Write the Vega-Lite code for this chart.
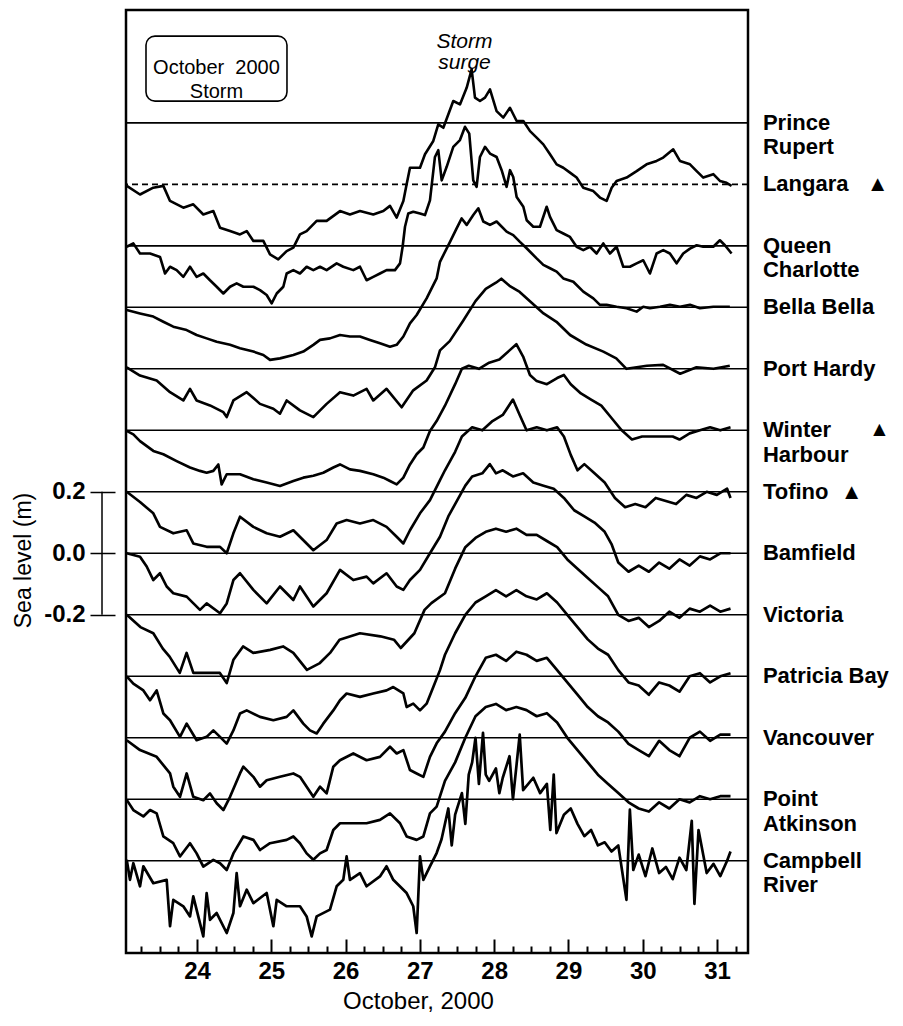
{
  "$schema": "https://vega.github.io/schema/vega-lite/v6.json",
  "width": 622,
  "height": 943,
  "autosize": {"type": "none"},
  "padding": {"left": 126, "top": 10, "right": 155, "bottom": 73},
  "background": "white",
  "config": {
    "font": "Liberation Sans",
    "view": {"stroke": "black", "strokeWidth": 2.5},
    "axis": {"labelFont": "Liberation Sans", "titleFont": "Liberation Sans", "labelColor": "black", "titleColor": "black", "tickColor": "black", "grid": false, "domain": false}
  },
  "resolve": {"axis": {"x": "independent", "y": "independent"}},
  "datasets": {
    "stations": [
      {"station": "Prince Rupert", "label": "Prince\nRupert", "level": 1.4},
      {"station": "Langara", "label": "Langara\u00a0\u00a0 ▲", "level": 1.2},
      {"station": "Queen Charlotte", "label": "Queen\nCharlotte", "level": 1.0},
      {"station": "Bella Bella", "label": "Bella Bella", "level": 0.8},
      {"station": "Port Hardy", "label": "Port Hardy", "level": 0.6},
      {"station": "Winter Harbour", "label": "Winter\nHarbour", "level": 0.4},
      {"station": "Tofino", "label": "Tofino\u00a0 ▲", "level": 0.2},
      {"station": "Bamfield", "label": "Bamfield", "level": 0.0},
      {"station": "Victoria", "label": "Victoria", "level": -0.2},
      {"station": "Patricia Bay", "label": "Patricia Bay", "level": -0.4},
      {"station": "Vancouver", "label": "Vancouver", "level": -0.6},
      {"station": "Point Atkinson", "label": "Point\nAtkinson", "level": -0.8},
      {"station": "Campbell River", "label": "Campbell\nRiver", "level": -1.0}
    ],
    "series": [
      {"station":"Langara","day":23.055,"level":1.195},{"station":"Langara","day":23.233,"level":1.167},{"station":"Langara","day":23.412,"level":1.189},{"station":"Langara","day":23.547,"level":1.195},{"station":"Langara","day":23.637,"level":1.146},{"station":"Langara","day":23.816,"level":1.124},{"station":"Langara","day":23.95,"level":1.135},{"station":"Langara","day":24.085,"level":1.102},{"station":"Langara","day":24.22,"level":1.113},{"station":"Langara","day":24.31,"level":1.059},{"station":"Langara","day":24.445,"level":1.048},{"station":"Langara","day":24.579,"level":1.037},{"station":"Langara","day":24.669,"level":1.048},{"station":"Langara","day":24.759,"level":1.016},{"station":"Langara","day":24.893,"level":1.016},{"station":"Langara","day":24.983,"level":0.972},{"station":"Langara","day":25.094,"level":0.956},{"station":"Langara","day":25.207,"level":0.983},{"station":"Langara","day":25.297,"level":0.994},{"station":"Langara","day":25.386,"level":1.037},{"station":"Langara","day":25.476,"level":1.048},{"station":"Langara","day":25.611,"level":1.081},{"station":"Langara","day":25.745,"level":1.081},{"station":"Langara","day":25.925,"level":1.113},{"station":"Langara","day":26.059,"level":1.102},{"station":"Langara","day":26.194,"level":1.113},{"station":"Langara","day":26.373,"level":1.102},{"station":"Langara","day":26.508,"level":1.113},{"station":"Langara","day":26.598,"level":1.13},{"station":"Langara","day":26.688,"level":1.092},{"station":"Langara","day":26.778,"level":1.146},{"station":"Langara","day":26.822,"level":1.2},{"station":"Langara","day":26.867,"level":1.254},{"station":"Langara","day":27.002,"level":1.254},{"station":"Langara","day":27.069,"level":1.298},{"station":"Langara","day":27.181,"level":1.341},{"station":"Langara","day":27.248,"level":1.395},{"station":"Langara","day":27.316,"level":1.384},{"station":"Langara","day":27.45,"level":1.471},{"station":"Langara","day":27.54,"level":1.46},{"station":"Langara","day":27.63,"level":1.514},{"station":"Langara","day":27.697,"level":1.574},{"station":"Langara","day":27.742,"level":1.482},{"station":"Langara","day":27.809,"level":1.471},{"station":"Langara","day":27.877,"level":1.482},{"station":"Langara","day":27.944,"level":1.509},{"station":"Langara","day":28.033,"level":1.438},{"station":"Langara","day":28.123,"level":1.417},{"station":"Langara","day":28.213,"level":1.449},{"station":"Langara","day":28.303,"level":1.406},{"station":"Langara","day":28.393,"level":1.406},{"station":"Langara","day":28.483,"level":1.373},{"station":"Langara","day":28.572,"level":1.352},{"station":"Langara","day":28.662,"level":1.33},{"station":"Langara","day":28.752,"level":1.298},{"station":"Langara","day":28.841,"level":1.265},{"station":"Langara","day":28.931,"level":1.254},{"station":"Langara","day":29.021,"level":1.238},{"station":"Langara","day":29.11,"level":1.222},{"station":"Langara","day":29.2,"level":1.189},{"station":"Langara","day":29.335,"level":1.178},{"station":"Langara","day":29.424,"level":1.157},{"station":"Langara","day":29.514,"level":1.146},{"station":"Langara","day":29.582,"level":1.189},{"station":"Langara","day":29.648,"level":1.211},{"station":"Langara","day":29.783,"level":1.222},{"station":"Langara","day":29.918,"level":1.243},{"station":"Langara","day":30.052,"level":1.265},{"station":"Langara","day":30.187,"level":1.276},{"station":"Langara","day":30.276,"level":1.287},{"station":"Langara","day":30.411,"level":1.314},{"station":"Langara","day":30.501,"level":1.276},{"station":"Langara","day":30.636,"level":1.265},{"station":"Langara","day":30.726,"level":1.243},{"station":"Langara","day":30.815,"level":1.222},{"station":"Langara","day":30.95,"level":1.233},{"station":"Langara","day":31.039,"level":1.211},{"station":"Langara","day":31.128,"level":1.205},{"station":"Langara","day":31.196,"level":1.195},

      {"station":"Queen Charlotte","day":23.054,"level":0.997},{"station":"Queen Charlotte","day":23.143,"level":1.008},{"station":"Queen Charlotte","day":23.233,"level":0.975},{"station":"Queen Charlotte","day":23.368,"level":0.975},{"station":"Queen Charlotte","day":23.502,"level":0.964},{"station":"Queen Charlotte","day":23.57,"level":0.91},{"station":"Queen Charlotte","day":23.637,"level":0.932},{"station":"Queen Charlotte","day":23.726,"level":0.921},{"station":"Queen Charlotte","day":23.816,"level":0.899},{"station":"Queen Charlotte","day":23.906,"level":0.932},{"station":"Queen Charlotte","day":23.995,"level":0.899},{"station":"Queen Charlotte","day":24.085,"level":0.91},{"station":"Queen Charlotte","day":24.175,"level":0.888},{"station":"Queen Charlotte","day":24.265,"level":0.867},{"station":"Queen Charlotte","day":24.355,"level":0.845},{"station":"Queen Charlotte","day":24.445,"level":0.867},{"station":"Queen Charlotte","day":24.534,"level":0.878},{"station":"Queen Charlotte","day":24.624,"level":0.867},{"station":"Queen Charlotte","day":24.759,"level":0.867},{"station":"Queen Charlotte","day":24.848,"level":0.856},{"station":"Queen Charlotte","day":24.938,"level":0.84},{"station":"Queen Charlotte","day":25.005,"level":0.813},{"station":"Queen Charlotte","day":25.073,"level":0.845},{"station":"Queen Charlotte","day":25.162,"level":0.867},{"station":"Queen Charlotte","day":25.207,"level":0.91},{"station":"Queen Charlotte","day":25.297,"level":0.921},{"station":"Queen Charlotte","day":25.386,"level":0.91},{"station":"Queen Charlotte","day":25.476,"level":0.932},{"station":"Queen Charlotte","day":25.566,"level":0.921},{"station":"Queen Charlotte","day":25.656,"level":0.932},{"station":"Queen Charlotte","day":25.745,"level":0.921},{"station":"Queen Charlotte","day":25.88,"level":0.943},{"station":"Queen Charlotte","day":25.969,"level":0.932},{"station":"Queen Charlotte","day":26.104,"level":0.921},{"station":"Queen Charlotte","day":26.194,"level":0.932},{"station":"Queen Charlotte","day":26.283,"level":0.888},{"station":"Queen Charlotte","day":26.373,"level":0.899},{"station":"Queen Charlotte","day":26.463,"level":0.91},{"station":"Queen Charlotte","day":26.552,"level":0.921},{"station":"Queen Charlotte","day":26.665,"level":0.921},{"station":"Queen Charlotte","day":26.733,"level":0.943},{"station":"Queen Charlotte","day":26.768,"level":0.997},{"station":"Queen Charlotte","day":26.8,"level":1.062},{"station":"Queen Charlotte","day":26.844,"level":1.105},{"station":"Queen Charlotte","day":26.911,"level":1.111},{"station":"Queen Charlotte","day":27.002,"level":1.105},{"station":"Queen Charlotte","day":27.069,"level":1.1},{"station":"Queen Charlotte","day":27.136,"level":1.148},{"station":"Queen Charlotte","day":27.203,"level":1.289},{"station":"Queen Charlotte","day":27.248,"level":1.311},{"station":"Queen Charlotte","day":27.294,"level":1.213},{"station":"Queen Charlotte","day":27.361,"level":1.257},{"station":"Queen Charlotte","day":27.45,"level":1.322},{"station":"Queen Charlotte","day":27.54,"level":1.344},{"station":"Queen Charlotte","day":27.608,"level":1.387},{"station":"Queen Charlotte","day":27.665,"level":1.365},{"station":"Queen Charlotte","day":27.719,"level":1.213},{"station":"Queen Charlotte","day":27.764,"level":1.192},{"station":"Queen Charlotte","day":27.809,"level":1.289},{"station":"Queen Charlotte","day":27.877,"level":1.322},{"station":"Queen Charlotte","day":27.944,"level":1.3},{"station":"Queen Charlotte","day":28.033,"level":1.289},{"station":"Queen Charlotte","day":28.101,"level":1.246},{"station":"Queen Charlotte","day":28.168,"level":1.192},{"station":"Queen Charlotte","day":28.213,"level":1.246},{"station":"Queen Charlotte","day":28.257,"level":1.224},{"station":"Queen Charlotte","day":28.303,"level":1.159},{"station":"Queen Charlotte","day":28.393,"level":1.127},{"station":"Queen Charlotte","day":28.438,"level":1.083},{"station":"Queen Charlotte","day":28.527,"level":1.062},{"station":"Queen Charlotte","day":28.617,"level":1.062},{"station":"Queen Charlotte","day":28.707,"level":1.127},{"station":"Queen Charlotte","day":28.752,"level":1.094},{"station":"Queen Charlotte","day":28.841,"level":1.051},{"station":"Queen Charlotte","day":28.931,"level":1.04},{"station":"Queen Charlotte","day":29.021,"level":1.029},{"station":"Queen Charlotte","day":29.11,"level":0.997},{"station":"Queen Charlotte","day":29.2,"level":0.986},{"station":"Queen Charlotte","day":29.29,"level":0.997},{"station":"Queen Charlotte","day":29.379,"level":0.975},{"station":"Queen Charlotte","day":29.469,"level":1.008},{"station":"Queen Charlotte","day":29.559,"level":0.975},{"station":"Queen Charlotte","day":29.648,"level":0.997},{"station":"Queen Charlotte","day":29.738,"level":0.932},{"station":"Queen Charlotte","day":29.828,"level":0.932},{"station":"Queen Charlotte","day":29.918,"level":0.943},{"station":"Queen Charlotte","day":30.007,"level":0.953},{"station":"Queen Charlotte","day":30.097,"level":0.91},{"station":"Queen Charlotte","day":30.187,"level":0.975},{"station":"Queen Charlotte","day":30.276,"level":0.986},{"station":"Queen Charlotte","day":30.366,"level":0.975},{"station":"Queen Charlotte","day":30.456,"level":0.943},{"station":"Queen Charlotte","day":30.545,"level":0.975},{"station":"Queen Charlotte","day":30.636,"level":0.991},{"station":"Queen Charlotte","day":30.726,"level":1.002},{"station":"Queen Charlotte","day":30.815,"level":0.997},{"station":"Queen Charlotte","day":30.95,"level":0.997},{"station":"Queen Charlotte","day":31.039,"level":1.018},{"station":"Queen Charlotte","day":31.106,"level":1.002},{"station":"Queen Charlotte","day":31.196,"level":0.975},

      {"station":"Bella Bella","day":23.054,"level":0.791},{"station":"Bella Bella","day":23.233,"level":0.78},{"station":"Bella Bella","day":23.412,"level":0.77},{"station":"Bella Bella","day":23.547,"level":0.753},{"station":"Bella Bella","day":23.681,"level":0.737},{"station":"Bella Bella","day":23.861,"level":0.726},{"station":"Bella Bella","day":23.995,"level":0.71},{"station":"Bella Bella","day":24.13,"level":0.699},{"station":"Bella Bella","day":24.265,"level":0.688},{"station":"Bella Bella","day":24.445,"level":0.678},{"station":"Bella Bella","day":24.579,"level":0.667},{"station":"Bella Bella","day":24.759,"level":0.656},{"station":"Bella Bella","day":24.893,"level":0.645},{"station":"Bella Bella","day":24.983,"level":0.629},{"station":"Bella Bella","day":25.117,"level":0.634},{"station":"Bella Bella","day":25.297,"level":0.645},{"station":"Bella Bella","day":25.431,"level":0.656},{"station":"Bella Bella","day":25.566,"level":0.678},{"station":"Bella Bella","day":25.656,"level":0.694},{"station":"Bella Bella","day":25.79,"level":0.699},{"station":"Bella Bella","day":25.925,"level":0.71},{"station":"Bella Bella","day":26.059,"level":0.705},{"station":"Bella Bella","day":26.194,"level":0.705},{"station":"Bella Bella","day":26.328,"level":0.694},{"station":"Bella Bella","day":26.463,"level":0.683},{"station":"Bella Bella","day":26.598,"level":0.672},{"station":"Bella Bella","day":26.688,"level":0.678},{"station":"Bella Bella","day":26.778,"level":0.705},{"station":"Bella Bella","day":26.867,"level":0.748},{"station":"Bella Bella","day":26.957,"level":0.775},{"station":"Bella Bella","day":27.091,"level":0.829},{"station":"Bella Bella","day":27.226,"level":0.894},{"station":"Bella Bella","day":27.271,"level":0.948},{"station":"Bella Bella","day":27.406,"level":1.013},{"station":"Bella Bella","day":27.495,"level":1.057},{"station":"Bella Bella","day":27.563,"level":1.089},{"station":"Bella Bella","day":27.63,"level":1.068},{"station":"Bella Bella","day":27.719,"level":1.1},{"station":"Bella Bella","day":27.787,"level":1.122},{"station":"Bella Bella","day":27.854,"level":1.079},{"station":"Bella Bella","day":27.944,"level":1.068},{"station":"Bella Bella","day":28.033,"level":1.079},{"station":"Bella Bella","day":28.168,"level":1.046},{"station":"Bella Bella","day":28.257,"level":1.035},{"station":"Bella Bella","day":28.347,"level":1.013},{"station":"Bella Bella","day":28.437,"level":0.992},{"station":"Bella Bella","day":28.572,"level":0.959},{"station":"Bella Bella","day":28.662,"level":0.938},{"station":"Bella Bella","day":28.752,"level":0.927},{"station":"Bella Bella","day":28.841,"level":0.916},{"station":"Bella Bella","day":28.931,"level":0.894},{"station":"Bella Bella","day":29.066,"level":0.883},{"station":"Bella Bella","day":29.2,"level":0.851},{"station":"Bella Bella","day":29.335,"level":0.829},{"station":"Bella Bella","day":29.424,"level":0.808},{"station":"Bella Bella","day":29.514,"level":0.808},{"station":"Bella Bella","day":29.648,"level":0.802},{"station":"Bella Bella","day":29.783,"level":0.797},{"station":"Bella Bella","day":29.918,"level":0.786},{"station":"Bella Bella","day":30.007,"level":0.802},{"station":"Bella Bella","day":30.097,"level":0.797},{"station":"Bella Bella","day":30.232,"level":0.802},{"station":"Bella Bella","day":30.366,"level":0.808},{"station":"Bella Bella","day":30.501,"level":0.802},{"station":"Bella Bella","day":30.636,"level":0.808},{"station":"Bella Bella","day":30.77,"level":0.797},{"station":"Bella Bella","day":30.95,"level":0.802},{"station":"Bella Bella","day":31.084,"level":0.802},{"station":"Bella Bella","day":31.173,"level":0.802},

      {"station":"Port Hardy","day":23.054,"level":0.605},{"station":"Port Hardy","day":23.233,"level":0.578},{"station":"Port Hardy","day":23.457,"level":0.562},{"station":"Port Hardy","day":23.637,"level":0.524},{"station":"Port Hardy","day":23.816,"level":0.497},{"station":"Port Hardy","day":23.906,"level":0.535},{"station":"Port Hardy","day":23.995,"level":0.497},{"station":"Port Hardy","day":24.175,"level":0.481},{"station":"Port Hardy","day":24.355,"level":0.459},{"station":"Port Hardy","day":24.4,"level":0.443},{"station":"Port Hardy","day":24.49,"level":0.497},{"station":"Port Hardy","day":24.669,"level":0.524},{"station":"Port Hardy","day":24.848,"level":0.486},{"station":"Port Hardy","day":25.028,"level":0.47},{"station":"Port Hardy","day":25.117,"level":0.454},{"station":"Port Hardy","day":25.207,"level":0.497},{"station":"Port Hardy","day":25.386,"level":0.465},{"station":"Port Hardy","day":25.566,"level":0.443},{"station":"Port Hardy","day":25.745,"level":0.486},{"station":"Port Hardy","day":25.925,"level":0.524},{"station":"Port Hardy","day":26.104,"level":0.513},{"station":"Port Hardy","day":26.283,"level":0.535},{"station":"Port Hardy","day":26.373,"level":0.497},{"station":"Port Hardy","day":26.552,"level":0.535},{"station":"Port Hardy","day":26.755,"level":0.475},{"station":"Port Hardy","day":26.911,"level":0.53},{"station":"Port Hardy","day":27.091,"level":0.562},{"station":"Port Hardy","day":27.203,"level":0.605},{"station":"Port Hardy","day":27.271,"level":0.66},{"station":"Port Hardy","day":27.402,"level":0.69},{"station":"Port Hardy","day":27.585,"level":0.757},{"station":"Port Hardy","day":27.749,"level":0.82},{"station":"Port Hardy","day":27.887,"level":0.86},{"station":"Port Hardy","day":28.024,"level":0.88},{"station":"Port Hardy","day":28.097,"level":0.893},{"station":"Port Hardy","day":28.207,"level":0.87},{"station":"Port Hardy","day":28.344,"level":0.85},{"station":"Port Hardy","day":28.482,"level":0.82},{"station":"Port Hardy","day":28.665,"level":0.78},{"station":"Port Hardy","day":28.839,"level":0.753},{"station":"Port Hardy","day":29.022,"level":0.71},{"station":"Port Hardy","day":29.241,"level":0.679},{"station":"Port Hardy","day":29.47,"level":0.656},{"station":"Port Hardy","day":29.644,"level":0.634},{"station":"Port Hardy","day":29.781,"level":0.6},{"station":"Port Hardy","day":30.056,"level":0.61},{"station":"Port Hardy","day":30.275,"level":0.613},{"station":"Port Hardy","day":30.504,"level":0.584},{"station":"Port Hardy","day":30.724,"level":0.605},{"station":"Port Hardy","day":30.953,"level":0.6},{"station":"Port Hardy","day":31.172,"level":0.61},

      {"station":"Winter Harbour","day":23.054,"level":0.398},{"station":"Winter Harbour","day":23.143,"level":0.387},{"station":"Winter Harbour","day":23.233,"level":0.365},{"station":"Winter Harbour","day":23.412,"level":0.333},{"station":"Winter Harbour","day":23.547,"level":0.322},{"station":"Winter Harbour","day":23.726,"level":0.3},{"station":"Winter Harbour","day":23.906,"level":0.279},{"station":"Winter Harbour","day":24.04,"level":0.268},{"station":"Winter Harbour","day":24.13,"level":0.262},{"station":"Winter Harbour","day":24.22,"level":0.268},{"station":"Winter Harbour","day":24.287,"level":0.289},{"station":"Winter Harbour","day":24.332,"level":0.224},{"station":"Winter Harbour","day":24.4,"level":0.257},{"station":"Winter Harbour","day":24.579,"level":0.257},{"station":"Winter Harbour","day":24.759,"level":0.241},{"station":"Winter Harbour","day":24.938,"level":0.23},{"station":"Winter Harbour","day":25.117,"level":0.219},{"station":"Winter Harbour","day":25.297,"level":0.235},{"station":"Winter Harbour","day":25.431,"level":0.246},{"station":"Winter Harbour","day":25.566,"level":0.252},{"station":"Winter Harbour","day":25.7,"level":0.262},{"station":"Winter Harbour","day":25.835,"level":0.279},{"station":"Winter Harbour","day":25.925,"level":0.289},{"station":"Winter Harbour","day":26.059,"level":0.273},{"station":"Winter Harbour","day":26.194,"level":0.268},{"station":"Winter Harbour","day":26.373,"level":0.257},{"station":"Winter Harbour","day":26.508,"level":0.246},{"station":"Winter Harbour","day":26.598,"level":0.235},{"station":"Winter Harbour","day":26.688,"level":0.224},{"station":"Winter Harbour","day":26.778,"level":0.246},{"station":"Winter Harbour","day":26.867,"level":0.289},{"station":"Winter Harbour","day":26.957,"level":0.322},{"station":"Winter Harbour","day":27.047,"level":0.344},{"station":"Winter Harbour","day":27.136,"level":0.398},{"station":"Winter Harbour","day":27.226,"level":0.43},{"station":"Winter Harbour","day":27.338,"level":0.48},{"station":"Winter Harbour","day":27.475,"level":0.55},{"station":"Winter Harbour","day":27.566,"level":0.6},{"station":"Winter Harbour","day":27.658,"level":0.61},{"station":"Winter Harbour","day":27.795,"level":0.6},{"station":"Winter Harbour","day":27.933,"level":0.62},{"station":"Winter Harbour","day":28.07,"level":0.63},{"station":"Winter Harbour","day":28.207,"level":0.66},{"station":"Winter Harbour","day":28.299,"level":0.68},{"station":"Winter Harbour","day":28.39,"level":0.64},{"station":"Winter Harbour","day":28.482,"level":0.58},{"station":"Winter Harbour","day":28.573,"level":0.56},{"station":"Winter Harbour","day":28.71,"level":0.55},{"station":"Winter Harbour","day":28.848,"level":0.57},{"station":"Winter Harbour","day":28.939,"level":0.58},{"station":"Winter Harbour","day":29.031,"level":0.55},{"station":"Winter Harbour","day":29.168,"level":0.52},{"station":"Winter Harbour","day":29.305,"level":0.5},{"station":"Winter Harbour","day":29.443,"level":0.48},{"station":"Winter Harbour","day":29.58,"level":0.44},{"station":"Winter Harbour","day":29.717,"level":0.4},{"station":"Winter Harbour","day":29.855,"level":0.37},{"station":"Winter Harbour","day":29.992,"level":0.38},{"station":"Winter Harbour","day":30.129,"level":0.38},{"station":"Winter Harbour","day":30.266,"level":0.38},{"station":"Winter Harbour","day":30.404,"level":0.38},{"station":"Winter Harbour","day":30.495,"level":0.37},{"station":"Winter Harbour","day":30.632,"level":0.39},{"station":"Winter Harbour","day":30.77,"level":0.4},{"station":"Winter Harbour","day":30.907,"level":0.41},{"station":"Winter Harbour","day":31.044,"level":0.4},{"station":"Winter Harbour","day":31.182,"level":0.41},

      {"station":"Tofino","day":23.054,"level":0.2},{"station":"Tofino","day":23.233,"level":0.167},{"station":"Tofino","day":23.412,"level":0.13},{"station":"Tofino","day":23.502,"level":0.086},{"station":"Tofino","day":23.681,"level":0.065},{"station":"Tofino","day":23.861,"level":0.075},{"station":"Tofino","day":23.95,"level":0.032},{"station":"Tofino","day":24.13,"level":0.021},{"station":"Tofino","day":24.31,"level":0.021},{"station":"Tofino","day":24.4,"level":0.0},{"station":"Tofino","day":24.49,"level":0.065},{"station":"Tofino","day":24.579,"level":0.119},{"station":"Tofino","day":24.759,"level":0.086},{"station":"Tofino","day":24.938,"level":0.065},{"station":"Tofino","day":25.117,"level":0.054},{"station":"Tofino","day":25.297,"level":0.075},{"station":"Tofino","day":25.476,"level":0.032},{"station":"Tofino","day":25.566,"level":0.01},{"station":"Tofino","day":25.745,"level":0.043},{"station":"Tofino","day":25.88,"level":0.097},{"station":"Tofino","day":26.014,"level":0.108},{"station":"Tofino","day":26.194,"level":0.097},{"station":"Tofino","day":26.373,"level":0.108},{"station":"Tofino","day":26.552,"level":0.086},{"station":"Tofino","day":26.688,"level":0.054},{"station":"Tofino","day":26.778,"level":0.032},{"station":"Tofino","day":26.867,"level":0.075},{"station":"Tofino","day":27.002,"level":0.13},{"station":"Tofino","day":27.136,"level":0.173},{"station":"Tofino","day":27.271,"level":0.238},{"station":"Tofino","day":27.338,"level":0.27},{"station":"Tofino","day":27.475,"level":0.33},{"station":"Tofino","day":27.566,"level":0.38},{"station":"Tofino","day":27.704,"level":0.41},{"station":"Tofino","day":27.841,"level":0.4},{"station":"Tofino","day":27.978,"level":0.43},{"station":"Tofino","day":28.116,"level":0.45},{"station":"Tofino","day":28.253,"level":0.5},{"station":"Tofino","day":28.344,"level":0.45},{"station":"Tofino","day":28.436,"level":0.4},{"station":"Tofino","day":28.573,"level":0.41},{"station":"Tofino","day":28.71,"level":0.4},{"station":"Tofino","day":28.848,"level":0.41},{"station":"Tofino","day":28.939,"level":0.38},{"station":"Tofino","day":29.031,"level":0.32},{"station":"Tofino","day":29.122,"level":0.27},{"station":"Tofino","day":29.214,"level":0.29},{"station":"Tofino","day":29.351,"level":0.26},{"station":"Tofino","day":29.488,"level":0.23},{"station":"Tofino","day":29.626,"level":0.18},{"station":"Tofino","day":29.763,"level":0.15},{"station":"Tofino","day":29.9,"level":0.16},{"station":"Tofino","day":30.037,"level":0.15},{"station":"Tofino","day":30.175,"level":0.18},{"station":"Tofino","day":30.312,"level":0.17},{"station":"Tofino","day":30.449,"level":0.16},{"station":"Tofino","day":30.587,"level":0.19},{"station":"Tofino","day":30.724,"level":0.18},{"station":"Tofino","day":30.861,"level":0.2},{"station":"Tofino","day":30.998,"level":0.19},{"station":"Tofino","day":31.136,"level":0.21},{"station":"Tofino","day":31.182,"level":0.18},

      {"station":"Bamfield","day":23.054,"level":0.0},{"station":"Bamfield","day":23.233,"level":-0.011},{"station":"Bamfield","day":23.323,"level":-0.043},{"station":"Bamfield","day":23.412,"level":-0.087},{"station":"Bamfield","day":23.502,"level":-0.065},{"station":"Bamfield","day":23.592,"level":-0.108},{"station":"Bamfield","day":23.681,"level":-0.13},{"station":"Bamfield","day":23.861,"level":-0.141},{"station":"Bamfield","day":24.04,"level":-0.184},{"station":"Bamfield","day":24.13,"level":-0.163},{"station":"Bamfield","day":24.31,"level":-0.195},{"station":"Bamfield","day":24.4,"level":-0.163},{"station":"Bamfield","day":24.49,"level":-0.087},{"station":"Bamfield","day":24.579,"level":-0.065},{"station":"Bamfield","day":24.759,"level":-0.119},{"station":"Bamfield","day":24.938,"level":-0.163},{"station":"Bamfield","day":25.117,"level":-0.108},{"station":"Bamfield","day":25.297,"level":-0.152},{"station":"Bamfield","day":25.386,"level":-0.108},{"station":"Bamfield","day":25.566,"level":-0.173},{"station":"Bamfield","day":25.745,"level":-0.13},{"station":"Bamfield","day":25.925,"level":-0.054},{"station":"Bamfield","day":26.104,"level":-0.087},{"station":"Bamfield","day":26.283,"level":-0.076},{"station":"Bamfield","day":26.373,"level":-0.098},{"station":"Bamfield","day":26.552,"level":-0.065},{"station":"Bamfield","day":26.688,"level":-0.108},{"station":"Bamfield","day":26.778,"level":-0.119},{"station":"Bamfield","day":26.867,"level":-0.087},{"station":"Bamfield","day":27.002,"level":-0.054},{"station":"Bamfield","day":27.136,"level":0.0},{"station":"Bamfield","day":27.271,"level":0.054},{"station":"Bamfield","day":27.383,"level":0.12},{"station":"Bamfield","day":27.521,"level":0.18},{"station":"Bamfield","day":27.612,"level":0.22},{"station":"Bamfield","day":27.704,"level":0.25},{"station":"Bamfield","day":27.841,"level":0.26},{"station":"Bamfield","day":27.942,"level":0.29},{"station":"Bamfield","day":28.024,"level":0.26},{"station":"Bamfield","day":28.116,"level":0.27},{"station":"Bamfield","day":28.253,"level":0.25},{"station":"Bamfield","day":28.39,"level":0.26},{"station":"Bamfield","day":28.527,"level":0.23},{"station":"Bamfield","day":28.665,"level":0.22},{"station":"Bamfield","day":28.802,"level":0.21},{"station":"Bamfield","day":28.939,"level":0.18},{"station":"Bamfield","day":29.077,"level":0.14},{"station":"Bamfield","day":29.214,"level":0.12},{"station":"Bamfield","day":29.351,"level":0.1},{"station":"Bamfield","day":29.488,"level":0.07},{"station":"Bamfield","day":29.58,"level":0.03},{"station":"Bamfield","day":29.671,"level":-0.03},{"station":"Bamfield","day":29.809,"level":-0.06},{"station":"Bamfield","day":29.946,"level":-0.04},{"station":"Bamfield","day":30.083,"level":-0.06},{"station":"Bamfield","day":30.221,"level":-0.03},{"station":"Bamfield","day":30.358,"level":-0.05},{"station":"Bamfield","day":30.495,"level":-0.02},{"station":"Bamfield","day":30.632,"level":-0.04},{"station":"Bamfield","day":30.77,"level":-0.01},{"station":"Bamfield","day":30.907,"level":-0.02},{"station":"Bamfield","day":31.044,"level":0.0},{"station":"Bamfield","day":31.182,"level":0.0},

      {"station":"Victoria","day":23.055,"level":-0.2},{"station":"Victoria","day":23.238,"level":-0.24},{"station":"Victoria","day":23.412,"level":-0.26},{"station":"Victoria","day":23.54,"level":-0.31},{"station":"Victoria","day":23.631,"level":-0.336},{"station":"Victoria","day":23.768,"level":-0.389},{"station":"Victoria","day":23.86,"level":-0.324},{"station":"Victoria","day":23.951,"level":-0.389},{"station":"Victoria","day":24.135,"level":-0.389},{"station":"Victoria","day":24.308,"level":-0.389},{"station":"Victoria","day":24.4,"level":-0.422},{"station":"Victoria","day":24.491,"level":-0.346},{"station":"Victoria","day":24.62,"level":-0.303},{"station":"Victoria","day":24.757,"level":-0.324},{"station":"Victoria","day":24.986,"level":-0.314},{"station":"Victoria","day":25.159,"level":-0.303},{"station":"Victoria","day":25.297,"level":-0.324},{"station":"Victoria","day":25.48,"level":-0.379},{"station":"Victoria","day":25.654,"level":-0.357},{"station":"Victoria","day":25.791,"level":-0.324},{"station":"Victoria","day":25.919,"level":-0.281},{"station":"Victoria","day":26.194,"level":-0.26},{"station":"Victoria","day":26.468,"level":-0.27},{"station":"Victoria","day":26.651,"level":-0.281},{"station":"Victoria","day":26.743,"level":-0.308},{"station":"Victoria","day":26.926,"level":-0.26},{"station":"Victoria","day":27.063,"level":-0.184},{"station":"Victoria","day":27.155,"level":-0.162},{"station":"Victoria","day":27.338,"level":-0.13},{"station":"Victoria","day":27.475,"level":-0.05},{"station":"Victoria","day":27.612,"level":0.02},{"station":"Victoria","day":27.749,"level":0.05},{"station":"Victoria","day":27.887,"level":0.07},{"station":"Victoria","day":28.024,"level":0.08},{"station":"Victoria","day":28.161,"level":0.07},{"station":"Victoria","day":28.299,"level":0.08},{"station":"Victoria","day":28.436,"level":0.06},{"station":"Victoria","day":28.573,"level":0.06},{"station":"Victoria","day":28.71,"level":0.04},{"station":"Victoria","day":28.848,"level":0.02},{"station":"Victoria","day":28.985,"level":-0.02},{"station":"Victoria","day":29.122,"level":-0.05},{"station":"Victoria","day":29.26,"level":-0.08},{"station":"Victoria","day":29.397,"level":-0.11},{"station":"Victoria","day":29.534,"level":-0.14},{"station":"Victoria","day":29.671,"level":-0.2},{"station":"Victoria","day":29.809,"level":-0.22},{"station":"Victoria","day":29.946,"level":-0.21},{"station":"Victoria","day":30.083,"level":-0.24},{"station":"Victoria","day":30.221,"level":-0.22},{"station":"Victoria","day":30.358,"level":-0.19},{"station":"Victoria","day":30.495,"level":-0.21},{"station":"Victoria","day":30.632,"level":-0.18},{"station":"Victoria","day":30.77,"level":-0.19},{"station":"Victoria","day":30.907,"level":-0.17},{"station":"Victoria","day":31.044,"level":-0.19},{"station":"Victoria","day":31.182,"level":-0.18},

      {"station":"Patricia Bay","day":23.054,"level":-0.4},{"station":"Patricia Bay","day":23.143,"level":-0.424},{"station":"Patricia Bay","day":23.278,"level":-0.446},{"station":"Patricia Bay","day":23.368,"level":-0.478},{"station":"Patricia Bay","day":23.457,"level":-0.446},{"station":"Patricia Bay","day":23.547,"level":-0.521},{"station":"Patricia Bay","day":23.637,"level":-0.543},{"station":"Patricia Bay","day":23.771,"level":-0.597},{"station":"Patricia Bay","day":23.861,"level":-0.554},{"station":"Patricia Bay","day":23.995,"level":-0.608},{"station":"Patricia Bay","day":24.13,"level":-0.597},{"station":"Patricia Bay","day":24.22,"level":-0.576},{"station":"Patricia Bay","day":24.31,"level":-0.597},{"station":"Patricia Bay","day":24.4,"level":-0.619},{"station":"Patricia Bay","day":24.49,"level":-0.576},{"station":"Patricia Bay","day":24.579,"level":-0.521},{"station":"Patricia Bay","day":24.669,"level":-0.511},{"station":"Patricia Bay","day":24.848,"level":-0.532},{"station":"Patricia Bay","day":25.028,"level":-0.543},{"station":"Patricia Bay","day":25.207,"level":-0.532},{"station":"Patricia Bay","day":25.297,"level":-0.511},{"station":"Patricia Bay","day":25.431,"level":-0.554},{"station":"Patricia Bay","day":25.521,"level":-0.576},{"station":"Patricia Bay","day":25.611,"level":-0.586},{"station":"Patricia Bay","day":25.7,"level":-0.554},{"station":"Patricia Bay","day":25.835,"level":-0.511},{"station":"Patricia Bay","day":25.925,"level":-0.478},{"station":"Patricia Bay","day":26.014,"level":-0.456},{"station":"Patricia Bay","day":26.194,"level":-0.467},{"station":"Patricia Bay","day":26.373,"level":-0.456},{"station":"Patricia Bay","day":26.552,"level":-0.446},{"station":"Patricia Bay","day":26.642,"level":-0.435},{"station":"Patricia Bay","day":26.778,"level":-0.456},{"station":"Patricia Bay","day":26.822,"level":-0.5},{"station":"Patricia Bay","day":26.911,"level":-0.489},{"station":"Patricia Bay","day":27.002,"level":-0.511},{"station":"Patricia Bay","day":27.091,"level":-0.489},{"station":"Patricia Bay","day":27.181,"level":-0.435},{"station":"Patricia Bay","day":27.271,"level":-0.38},{"station":"Patricia Bay","day":27.338,"level":-0.33},{"station":"Patricia Bay","day":27.475,"level":-0.26},{"station":"Patricia Bay","day":27.612,"level":-0.2},{"station":"Patricia Bay","day":27.749,"level":-0.16},{"station":"Patricia Bay","day":27.887,"level":-0.14},{"station":"Patricia Bay","day":28.024,"level":-0.12},{"station":"Patricia Bay","day":28.161,"level":-0.14},{"station":"Patricia Bay","day":28.299,"level":-0.12},{"station":"Patricia Bay","day":28.436,"level":-0.14},{"station":"Patricia Bay","day":28.573,"level":-0.15},{"station":"Patricia Bay","day":28.71,"level":-0.13},{"station":"Patricia Bay","day":28.848,"level":-0.16},{"station":"Patricia Bay","day":28.985,"level":-0.2},{"station":"Patricia Bay","day":29.122,"level":-0.24},{"station":"Patricia Bay","day":29.26,"level":-0.28},{"station":"Patricia Bay","day":29.397,"level":-0.31},{"station":"Patricia Bay","day":29.534,"level":-0.33},{"station":"Patricia Bay","day":29.671,"level":-0.38},{"station":"Patricia Bay","day":29.809,"level":-0.42},{"station":"Patricia Bay","day":29.946,"level":-0.43},{"station":"Patricia Bay","day":30.083,"level":-0.46},{"station":"Patricia Bay","day":30.221,"level":-0.42},{"station":"Patricia Bay","day":30.358,"level":-0.43},{"station":"Patricia Bay","day":30.495,"level":-0.45},{"station":"Patricia Bay","day":30.632,"level":-0.4},{"station":"Patricia Bay","day":30.77,"level":-0.39},{"station":"Patricia Bay","day":30.907,"level":-0.42},{"station":"Patricia Bay","day":31.044,"level":-0.4},{"station":"Patricia Bay","day":31.182,"level":-0.39},

      {"station":"Vancouver","day":23.054,"level":-0.608},{"station":"Vancouver","day":23.233,"level":-0.64},{"station":"Vancouver","day":23.457,"level":-0.662},{"station":"Vancouver","day":23.637,"level":-0.716},{"station":"Vancouver","day":23.681,"level":-0.759},{"station":"Vancouver","day":23.771,"level":-0.792},{"station":"Vancouver","day":23.861,"level":-0.716},{"station":"Vancouver","day":23.95,"level":-0.792},{"station":"Vancouver","day":24.085,"level":-0.803},{"station":"Vancouver","day":24.175,"level":-0.781},{"station":"Vancouver","day":24.265,"level":-0.813},{"station":"Vancouver","day":24.355,"level":-0.835},{"station":"Vancouver","day":24.445,"level":-0.792},{"station":"Vancouver","day":24.579,"level":-0.716},{"station":"Vancouver","day":24.624,"level":-0.694},{"station":"Vancouver","day":24.759,"level":-0.727},{"station":"Vancouver","day":24.848,"level":-0.759},{"station":"Vancouver","day":24.938,"level":-0.738},{"station":"Vancouver","day":25.117,"level":-0.727},{"station":"Vancouver","day":25.297,"level":-0.716},{"station":"Vancouver","day":25.386,"level":-0.727},{"station":"Vancouver","day":25.476,"level":-0.759},{"station":"Vancouver","day":25.566,"level":-0.792},{"station":"Vancouver","day":25.656,"level":-0.759},{"station":"Vancouver","day":25.745,"level":-0.781},{"station":"Vancouver","day":25.835,"level":-0.694},{"station":"Vancouver","day":25.925,"level":-0.673},{"station":"Vancouver","day":26.104,"level":-0.651},{"station":"Vancouver","day":26.283,"level":-0.673},{"station":"Vancouver","day":26.463,"level":-0.662},{"station":"Vancouver","day":26.598,"level":-0.629},{"station":"Vancouver","day":26.688,"level":-0.651},{"station":"Vancouver","day":26.778,"level":-0.64},{"station":"Vancouver","day":26.867,"level":-0.705},{"station":"Vancouver","day":26.957,"level":-0.716},{"station":"Vancouver","day":27.047,"level":-0.727},{"station":"Vancouver","day":27.136,"level":-0.662},{"station":"Vancouver","day":27.226,"level":-0.618},{"station":"Vancouver","day":27.338,"level":-0.58},{"station":"Vancouver","day":27.475,"level":-0.52},{"station":"Vancouver","day":27.612,"level":-0.47},{"station":"Vancouver","day":27.749,"level":-0.4},{"station":"Vancouver","day":27.887,"level":-0.34},{"station":"Vancouver","day":28.024,"level":-0.33},{"station":"Vancouver","day":28.161,"level":-0.35},{"station":"Vancouver","day":28.299,"level":-0.32},{"station":"Vancouver","day":28.436,"level":-0.33},{"station":"Vancouver","day":28.573,"level":-0.35},{"station":"Vancouver","day":28.71,"level":-0.34},{"station":"Vancouver","day":28.848,"level":-0.38},{"station":"Vancouver","day":28.985,"level":-0.42},{"station":"Vancouver","day":29.122,"level":-0.46},{"station":"Vancouver","day":29.26,"level":-0.5},{"station":"Vancouver","day":29.397,"level":-0.53},{"station":"Vancouver","day":29.534,"level":-0.55},{"station":"Vancouver","day":29.671,"level":-0.58},{"station":"Vancouver","day":29.809,"level":-0.62},{"station":"Vancouver","day":29.946,"level":-0.64},{"station":"Vancouver","day":30.083,"level":-0.66},{"station":"Vancouver","day":30.221,"level":-0.61},{"station":"Vancouver","day":30.358,"level":-0.64},{"station":"Vancouver","day":30.495,"level":-0.66},{"station":"Vancouver","day":30.632,"level":-0.6},{"station":"Vancouver","day":30.77,"level":-0.58},{"station":"Vancouver","day":30.907,"level":-0.61},{"station":"Vancouver","day":31.044,"level":-0.59},{"station":"Vancouver","day":31.182,"level":-0.59},

      {"station":"Point Atkinson","day":23.054,"level":-0.802},{"station":"Point Atkinson","day":23.143,"level":-0.835},{"station":"Point Atkinson","day":23.278,"level":-0.856},{"station":"Point Atkinson","day":23.368,"level":-0.835},{"station":"Point Atkinson","day":23.457,"level":-0.846},{"station":"Point Atkinson","day":23.547,"level":-0.921},{"station":"Point Atkinson","day":23.681,"level":-0.943},{"station":"Point Atkinson","day":23.771,"level":-0.986},{"station":"Point Atkinson","day":23.906,"level":-0.943},{"station":"Point Atkinson","day":23.995,"level":-0.976},{"station":"Point Atkinson","day":24.085,"level":-1.019},{"station":"Point Atkinson","day":24.22,"level":-0.997},{"station":"Point Atkinson","day":24.31,"level":-1.008},{"station":"Point Atkinson","day":24.4,"level":-1.03},{"station":"Point Atkinson","day":24.49,"level":-0.976},{"station":"Point Atkinson","day":24.624,"level":-0.921},{"station":"Point Atkinson","day":24.759,"level":-0.932},{"station":"Point Atkinson","day":24.848,"level":-0.965},{"station":"Point Atkinson","day":24.983,"level":-0.943},{"station":"Point Atkinson","day":25.207,"level":-0.932},{"station":"Point Atkinson","day":25.297,"level":-0.921},{"station":"Point Atkinson","day":25.386,"level":-0.943},{"station":"Point Atkinson","day":25.476,"level":-0.976},{"station":"Point Atkinson","day":25.566,"level":-0.997},{"station":"Point Atkinson","day":25.656,"level":-0.976},{"station":"Point Atkinson","day":25.745,"level":-0.965},{"station":"Point Atkinson","day":25.835,"level":-0.9},{"station":"Point Atkinson","day":25.925,"level":-0.878},{"station":"Point Atkinson","day":26.104,"level":-0.878},{"station":"Point Atkinson","day":26.283,"level":-0.878},{"station":"Point Atkinson","day":26.463,"level":-0.867},{"station":"Point Atkinson","day":26.598,"level":-0.846},{"station":"Point Atkinson","day":26.733,"level":-0.878},{"station":"Point Atkinson","day":26.822,"level":-0.921},{"station":"Point Atkinson","day":26.957,"level":-0.932},{"station":"Point Atkinson","day":27.047,"level":-0.921},{"station":"Point Atkinson","day":27.136,"level":-0.846},{"station":"Point Atkinson","day":27.226,"level":-0.824},{"station":"Point Atkinson","day":27.338,"level":-0.74},{"station":"Point Atkinson","day":27.475,"level":-0.68},{"station":"Point Atkinson","day":27.612,"level":-0.6},{"station":"Point Atkinson","day":27.749,"level":-0.53},{"station":"Point Atkinson","day":27.887,"level":-0.5},{"station":"Point Atkinson","day":28.024,"level":-0.49},{"station":"Point Atkinson","day":28.161,"level":-0.51},{"station":"Point Atkinson","day":28.299,"level":-0.5},{"station":"Point Atkinson","day":28.436,"level":-0.51},{"station":"Point Atkinson","day":28.573,"level":-0.53},{"station":"Point Atkinson","day":28.71,"level":-0.52},{"station":"Point Atkinson","day":28.848,"level":-0.55},{"station":"Point Atkinson","day":28.985,"level":-0.6},{"station":"Point Atkinson","day":29.122,"level":-0.64},{"station":"Point Atkinson","day":29.26,"level":-0.68},{"station":"Point Atkinson","day":29.397,"level":-0.72},{"station":"Point Atkinson","day":29.534,"level":-0.75},{"station":"Point Atkinson","day":29.671,"level":-0.78},{"station":"Point Atkinson","day":29.809,"level":-0.81},{"station":"Point Atkinson","day":29.946,"level":-0.83},{"station":"Point Atkinson","day":30.083,"level":-0.84},{"station":"Point Atkinson","day":30.221,"level":-0.81},{"station":"Point Atkinson","day":30.358,"level":-0.83},{"station":"Point Atkinson","day":30.495,"level":-0.8},{"station":"Point Atkinson","day":30.632,"level":-0.81},{"station":"Point Atkinson","day":30.77,"level":-0.79},{"station":"Point Atkinson","day":30.907,"level":-0.8},{"station":"Point Atkinson","day":31.044,"level":-0.79},{"station":"Point Atkinson","day":31.182,"level":-0.79},

      {"station":"Campbell River","day":23.054,"level":-0.997},{"station":"Campbell River","day":23.098,"level":-1.062},{"station":"Campbell River","day":23.143,"level":-1.008},{"station":"Campbell River","day":23.233,"level":-1.083},{"station":"Campbell River","day":23.278,"level":-1.018},{"station":"Campbell River","day":23.412,"level":-1.073},{"station":"Campbell River","day":23.592,"level":-1.062},{"station":"Campbell River","day":23.637,"level":-1.213},{"station":"Campbell River","day":23.681,"level":-1.127},{"station":"Campbell River","day":23.816,"level":-1.148},{"station":"Campbell River","day":23.906,"level":-1.181},{"station":"Campbell River","day":23.95,"level":-1.116},{"station":"Campbell River","day":24.04,"level":-1.203},{"station":"Campbell River","day":24.085,"level":-1.246},{"station":"Campbell River","day":24.13,"level":-1.105},{"station":"Campbell River","day":24.175,"level":-1.192},{"station":"Campbell River","day":24.265,"level":-1.17},{"station":"Campbell River","day":24.4,"level":-1.235},{"station":"Campbell River","day":24.49,"level":-1.17},{"station":"Campbell River","day":24.534,"level":-1.04},{"station":"Campbell River","day":24.579,"level":-1.148},{"station":"Campbell River","day":24.669,"level":-1.094},{"station":"Campbell River","day":24.759,"level":-1.138},{"station":"Campbell River","day":24.938,"level":-1.105},{"station":"Campbell River","day":25.028,"level":-1.213},{"station":"Campbell River","day":25.073,"level":-1.127},{"station":"Campbell River","day":25.207,"level":-1.148},{"station":"Campbell River","day":25.386,"level":-1.148},{"station":"Campbell River","day":25.476,"level":-1.181},{"station":"Campbell River","day":25.544,"level":-1.246},{"station":"Campbell River","day":25.611,"level":-1.181},{"station":"Campbell River","day":25.79,"level":-1.159},{"station":"Campbell River","day":25.88,"level":-1.083},{"station":"Campbell River","day":25.969,"level":-1.062},{"station":"Campbell River","day":26.014,"level":-0.986},{"station":"Campbell River","day":26.059,"level":-1.062},{"station":"Campbell River","day":26.194,"level":-1.04},{"station":"Campbell River","day":26.283,"level":-1.083},{"station":"Campbell River","day":26.463,"level":-1.051},{"station":"Campbell River","day":26.552,"level":-1.018},{"station":"Campbell River","day":26.642,"level":-1.062},{"station":"Campbell River","day":26.822,"level":-1.105},{"station":"Campbell River","day":26.911,"level":-1.148},{"station":"Campbell River","day":26.957,"level":-1.235},{"station":"Campbell River","day":27.002,"level":-0.986},{"station":"Campbell River","day":27.047,"level":-1.062},{"station":"Campbell River","day":27.136,"level":-1.018},{"station":"Campbell River","day":27.226,"level":-0.975},{"station":"Campbell River","day":27.292,"level":-0.93},{"station":"Campbell River","day":27.383,"level":-0.83},{"station":"Campbell River","day":27.429,"level":-0.95},{"station":"Campbell River","day":27.475,"level":-0.85},{"station":"Campbell River","day":27.566,"level":-0.78},{"station":"Campbell River","day":27.612,"level":-0.88},{"station":"Campbell River","day":27.658,"level":-0.72},{"station":"Campbell River","day":27.704,"level":-0.68},{"station":"Campbell River","day":27.749,"level":-0.6},{"station":"Campbell River","day":27.795,"level":-0.75},{"station":"Campbell River","day":27.85,"level":-0.584},{"station":"Campbell River","day":27.887,"level":-0.72},{"station":"Campbell River","day":27.933,"level":-0.74},{"station":"Campbell River","day":28.024,"level":-0.7},{"station":"Campbell River","day":28.07,"level":-0.78},{"station":"Campbell River","day":28.116,"level":-0.73},{"station":"Campbell River","day":28.207,"level":-0.66},{"station":"Campbell River","day":28.253,"level":-0.8},{"station":"Campbell River","day":28.344,"level":-0.59},{"station":"Campbell River","day":28.39,"level":-0.77},{"station":"Campbell River","day":28.527,"level":-0.73},{"station":"Campbell River","day":28.619,"level":-0.78},{"station":"Campbell River","day":28.71,"level":-0.75},{"station":"Campbell River","day":28.756,"level":-0.9},{"station":"Campbell River","day":28.802,"level":-0.72},{"station":"Campbell River","day":28.839,"level":-0.91},{"station":"Campbell River","day":28.939,"level":-0.85},{"station":"Campbell River","day":29.031,"level":-0.83},{"station":"Campbell River","day":29.122,"level":-0.88},{"station":"Campbell River","day":29.214,"level":-0.92},{"station":"Campbell River","day":29.305,"level":-0.9},{"station":"Campbell River","day":29.397,"level":-0.95},{"station":"Campbell River","day":29.488,"level":-0.94},{"station":"Campbell River","day":29.58,"level":-0.97},{"station":"Campbell River","day":29.671,"level":-0.95},{"station":"Campbell River","day":29.781,"level":-1.127},{"station":"Campbell River","day":29.827,"level":-0.834},{"station":"Campbell River","day":29.873,"level":-1.03},{"station":"Campbell River","day":29.946,"level":-0.98},{"station":"Campbell River","day":30.037,"level":-1.05},{"station":"Campbell River","day":30.129,"level":-0.96},{"station":"Campbell River","day":30.221,"level":-1.04},{"station":"Campbell River","day":30.312,"level":-1.02},{"station":"Campbell River","day":30.404,"level":-1.06},{"station":"Campbell River","day":30.495,"level":-0.99},{"station":"Campbell River","day":30.587,"level":-1.03},{"station":"Campbell River","day":30.66,"level":-0.87},{"station":"Campbell River","day":30.696,"level":-1.14},{"station":"Campbell River","day":30.751,"level":-0.9},{"station":"Campbell River","day":30.861,"level":-1.04},{"station":"Campbell River","day":30.953,"level":-1.01},{"station":"Campbell River","day":31.044,"level":-1.05},{"station":"Campbell River","day":31.136,"level":-1.0},{"station":"Campbell River","day":31.182,"level":-0.97}
    ]
  },
  "layer": [
    {
      "data": {"name": "stations"},
      "transform": [{"filter": "datum.station !== 'Langara'"}],
      "mark": {"type": "rule", "color": "black", "strokeWidth": 1.6},
      "encoding": {"y": {"field": "level", "type": "quantitative", "axis": null}}
    },
    {
      "data": {"name": "stations"},
      "transform": [{"filter": "datum.station === 'Langara'"}],
      "mark": {"type": "rule", "color": "black", "strokeWidth": 1.6, "strokeDash": [6, 4]},
      "encoding": {"y": {"field": "level", "type": "quantitative", "axis": null}}
    },
    {
      "data": {"name": "series"},
      "mark": {"type": "line", "color": "black", "strokeJoin": "round"},
      "encoding": {
        "x": {
          "field": "day", "type": "quantitative",
          "scale": {"domain": [23.0444, 31.4172], "nice": false, "zero": false},
          "axis": {
            "orient": "bottom", "values": [24, 25, 26, 27, 28, 29, 30, 31],
            "tickSize": -14, "tickWidth": 2, "labelPadding": 20,
            "labelFontSize": 24, "labelFontWeight": "bold", "labelFlush": false,
            "title": "October, 2000", "titleFontSize": 24, "titleFontWeight": "normal",
            "titlePadding": 6, "titleX": 292
          }
        },
        "y": {
          "field": "level", "type": "quantitative",
          "scale": {"domain": [-1.3, 1.767], "nice": false, "zero": false},
          "axis": {
            "orient": "left", "values": [-0.2, 0, 0.2], "offset": 11,
            "tickSize": 25, "tickWidth": 1.5, "labelPadding": 5,
            "labelExpr": "(datum.value < 0 ? '-' : '') + format(abs(datum.value), '.1f')",
            "labelFontSize": 24, "labelFontWeight": "bold",
            "title": "Sea level (m)", "titleFontSize": 23, "titleFontWeight": "normal",
            "titlePadding": 8, "titleY": 550
          }
        },
        "detail": {"field": "station"},
        "strokeWidth": {
          "field": "station", "type": "nominal", "legend": null,
          "scale": {
            "domain": ["Langara", "Queen Charlotte", "Bella Bella", "Port Hardy", "Winter Harbour", "Tofino", "Bamfield", "Victoria", "Patricia Bay", "Vancouver", "Point Atkinson", "Campbell River"],
            "range": [2.6, 2.7, 2.8, 3.3, 3.7, 3.7, 3.4, 2.8, 2.6, 2.6, 2.6, 2.3]
          }
        }
      }
    },
    {
      "data": {"values": [{}]},
      "mark": {"type": "rule", "color": "black", "strokeWidth": 1.5},
      "encoding": {
        "x": {
          "datum": 22.7214,
          "axis": {
            "orient": "bottom",
            "values": [23.25, 23.5, 23.75, 24.25, 24.5, 24.75, 25.25, 25.5, 25.75, 26.25, 26.5, 26.75, 27.25, 27.5, 27.75, 28.25, 28.5, 28.75, 29.25, 29.5, 29.75, 30.25, 30.5, 30.75, 31.25],
            "tickSize": -7, "tickWidth": 2, "labels": false, "title": null
          }
        },
        "y": {"datum": -0.2, "axis": null},
        "y2": {"datum": 0.2}
      }
    },
    {
      "data": {"name": "stations"},
      "mark": {"type": "text", "align": "left", "baseline": "middle", "fontSize": 22, "fontWeight": "bold", "lineBreak": "\n", "lineHeight": 24.6, "color": "black"},
      "encoding": {
        "x": {"datum": 31.6177, "axis": null},
        "y": {"field": "level", "type": "quantitative", "axis": null},
        "text": {"field": "label"}
      }
    },
    {
      "data": {"name": "stations"},
      "transform": [{"filter": "datum.station === 'Winter Harbour'"}],
      "mark": {"type": "text", "align": "left", "baseline": "middle", "fontSize": 21, "text": "▲", "color": "black"},
      "encoding": {
        "x": {"datum": 33.0444, "axis": null},
        "y": {"field": "level", "type": "quantitative", "axis": null}
      }
    },
    {
      "data": {"values": [{}]},
      "mark": {"type": "rect", "fill": "white", "stroke": "black", "strokeWidth": 1.6, "cornerRadius": 9},
      "encoding": {
        "x": {"datum": 23.3136, "axis": null},
        "x2": {"datum": 25.2113},
        "y": {"datum": 1.6821, "axis": null},
        "y2": {"datum": 1.4707}
      }
    },
    {
      "data": {"values": [{}]},
      "mark": {"type": "text", "align": "center", "baseline": "middle", "fontSize": 20, "lineHeight": 24, "text": ["October\u00a0 2000", "Storm"], "color": "black"},
      "encoding": {
        "x": {"datum": 24.2624, "axis": null},
        "y": {"datum": 1.5797, "axis": null}
      }
    },
    {
      "data": {"values": [{}]},
      "mark": {"type": "text", "align": "center", "baseline": "middle", "fontSize": 21, "fontStyle": "italic", "lineHeight": 21, "text": ["Storm", "surge"], "color": "black"},
      "encoding": {
        "x": {"datum": 27.6012, "axis": null},
        "y": {"datum": 1.6626, "axis": null}
      }
    }
  ]
}
